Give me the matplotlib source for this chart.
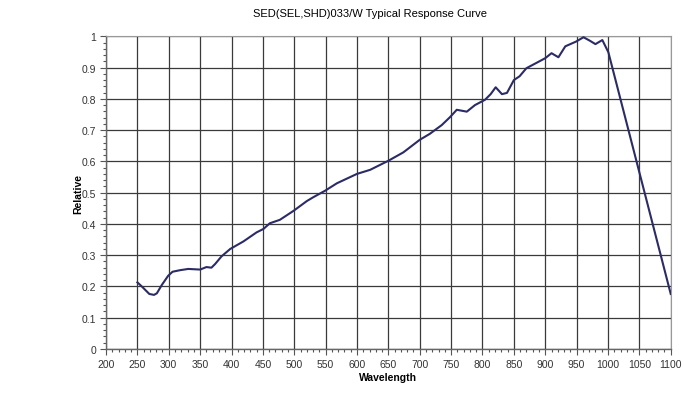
import numpy as np
import matplotlib
matplotlib.use('Agg')
import matplotlib.pyplot as plt
from matplotlib.ticker import MultipleLocator

plt.rcParams['font.family'] = ['Liberation Sans', 'DejaVu Sans']

# response curve
wavelength = [250, 257, 269, 276.5, 281, 289, 299, 306, 318, 331, 350, 360, 368,
              374, 384, 398, 419, 440, 451, 461, 477, 499, 520, 530, 549, 568,
              600, 621, 637, 650, 674, 700, 716, 735, 748, 759, 775, 788, 804,
              813, 821, 831, 839, 850, 859, 870, 886, 900, 910, 921, 932, 949,
              961, 971, 980, 991, 1000.6, 1100]
relative = [0.213, 0.200, 0.176, 0.173, 0.178, 0.205, 0.234, 0.247, 0.252, 0.256,
            0.254, 0.262, 0.260, 0.272, 0.296, 0.320, 0.344, 0.373, 0.384, 0.402,
            0.413, 0.442, 0.473, 0.485, 0.506, 0.530, 0.560, 0.573, 0.589, 0.602,
            0.629, 0.669, 0.688, 0.716, 0.741, 0.765, 0.759, 0.780, 0.797, 0.815,
            0.837, 0.815, 0.819, 0.860, 0.872, 0.898, 0.915, 0.930, 0.946, 0.933,
            0.968, 0.983, 0.997, 0.986, 0.975, 0.988, 0.949, 0.176]

title = 'SED(SEL,SHD)033/W Typical Response Curve'

fig = plt.figure(figsize=(6.84, 4.02), dpi=100)
ax = fig.add_axes([0.155, 0.1294, 0.8256, 0.7778])

ax.plot(wavelength, relative, color='#2b2b66', linewidth=1.5,
        solid_joinstyle='round', zorder=3)

ax.set_xlim(200, 1100)
ax.set_ylim(0, 1)
ax.xaxis.set_major_locator(MultipleLocator(50))
ax.xaxis.set_minor_locator(MultipleLocator(10))
ax.yaxis.set_major_locator(MultipleLocator(0.1))
ax.yaxis.set_minor_locator(MultipleLocator(0.02))
ax.set_yticks(np.arange(0, 1.01, 0.1))
ax.set_yticklabels(['0'] + [f'{v:.1f}' for v in np.arange(0.1, 0.95, 0.1)] + ['1'])

ax.grid(True, which='major', color='#3a3a3a', linewidth=0.9)
ax.tick_params(which='both', direction='out', colors='#555555',
               labelcolor='#333333', labelsize=7.5, width=0.8)
ax.tick_params(which='major', length=4, pad=3)
ax.tick_params(which='minor', length=2.5)

for side in ['left', 'bottom']:
    ax.spines[side].set_color('#666666')
    ax.spines[side].set_linewidth(1.0)
for side in ['top', 'right']:
    ax.spines[side].set_color('#999999')
    ax.spines[side].set_linewidth(0.8)

ax.set_xlabel('Wavelength', fontsize=7.5, fontweight='bold', labelpad=2.5)
ax.set_ylabel('Relative', fontsize=7.5, fontweight='bold', labelpad=-1)
fig.text(0.541, 0.965, title, ha='center', va='center', fontsize=8)

fig.savefig('out.png', dpi=100)
